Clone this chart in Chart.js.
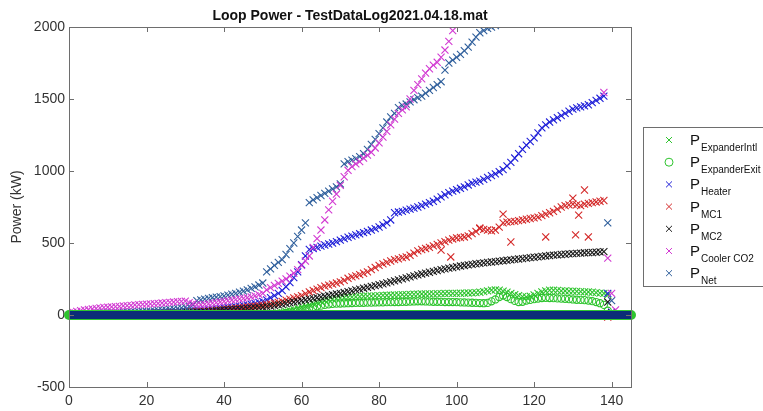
<!DOCTYPE html>
<html>
<head>
<meta charset="utf-8">
<script src="https://cdn.jsdelivr.net/npm/chart.js@4.4.1/dist/chart.umd.min.js"></script>
<style>
  html, body { margin: 0; padding: 0; background: #fff; }
  canvas { display: block; }
</style>
</head>
<body>
<canvas id="loopChart" width="763" height="411"></canvas>
<script>
// time axis (shared by all series)
const time = [
  0,1,2,3,4,5,6,7,8,9,
  10,11,12,13,14,15,16,17,18,19,
  20,21,22,23,24,25,26,27,28,29,
  30,31,32,33,34,35,36,37,38,39,
  40,41,42,43,44,45,46,47,48,49,
  50,51,52,53,54,55,56,57,58,59,
  60,61,62,63,64,65,66,67,68,69,
  70,71,72,73,74,75,76,77,78,79,
  80,81,82,83,84,85,86,87,88,89,
  90,91,92,93,94,95,96,97,98,99,
  100,101,102,103,104,105,106,107,108,109,
  110,111,112,113,114,115,116,117,118,119,
  120,121,122,123,124,125,126,127,128,129,
  130,131,132,133,134,135,136,137,138,139,
  140,141
];

const pExpanderIntl = [
  0,0,0,0,0,0,0,0,0,0,
  0,0,0,0,0,0,0,0,0,0,
  0,0,0,0,0,0,0,0,0,0,
  0,0,0,0,0,0,0,0,0,0,
  0,0,0,0,0,0,0,0,0,0,
  5,6,8,10,14,18,24,30,38,46,
  55,62,70,78,86,94,100,105,110,114,
  118,120,122,124,126,128,130,131,132,133,
  135,136,137,138,139,140,141,142,143,144,
  145,146,146,147,147,148,148,149,150,150,
  150,151,152,153,154,155,158,162,168,173,
  175,172,165,158,150,142,135,128,125,130,
  140,150,160,167,172,172,170,168,167,166,
  165,164,162,161,160,158,155,152,150,140,
  null,null
];

const pExpanderExit = [
  0,0,0,0,0,0,0,0,0,0,
  0,0,0,0,0,0,0,0,0,0,
  0,0,0,0,0,0,0,0,0,0,
  0,0,0,0,0,0,0,0,0,0,
  0,0,0,0,0,0,0,0,0,0,
  3,4,5,6,8,10,14,18,24,30,
  36,42,48,54,60,65,70,74,77,79,
  80,81,82,83,84,85,85,86,86,87,
  88,88,89,89,90,90,91,92,93,94,
  95,95,94,93,92,92,91,90,90,90,
  89,88,87,86,85,84,83,82,84,95,
  108,125,135,125,110,98,90,92,100,105,
  110,114,118,119,118,117,115,114,112,110,
  108,106,105,103,100,96,90,82,70,30,
  null,null
];

const pHeater = [
  2,2,3,3,4,4,5,5,6,6,
  7,7,8,8,9,9,10,10,11,12,
  13,14,15,16,17,18,19,20,22,24,
  26,28,30,32,34,36,38,40,43,46,
  49,52,55,58,62,66,70,75,80,87,
  95,105,120,135,150,170,195,225,260,300,
  350,410,455,462,470,478,486,493,500,510,
  520,530,540,548,556,564,572,580,590,600,
  611,625,640,660,710,715,720,728,735,742,
  750,760,770,780,790,805,820,835,850,860,
  870,880,890,903,915,923,930,942,955,968,
  980,995,1010,1035,1060,1090,1120,1150,1180,1205,
  1230,1265,1300,1320,1340,1355,1370,1385,1400,1415,
  1430,1438,1445,1452,1460,1475,1490,1505,1520,150,
  20,null
];

const pMC1 = [
  1,1,2,2,3,3,4,4,5,5,
  6,6,7,7,8,8,9,9,10,10,
  11,12,13,14,15,16,17,18,19,20,
  21,22,23,24,25,27,29,31,33,35,
  38,41,44,47,50,53,56,59,62,65,
  69,73,77,82,88,95,103,110,118,126,
  135,148,160,170,180,190,200,207,214,222,
  230,240,255,265,272,280,290,300,315,330,
  345,355,365,375,385,390,398,403,415,430,
  445,455,462,470,480,490,500,510,520,528,
  535,538,542,550,565,580,600,595,590,585,
  590,610,640,645,648,650,655,660,665,670,
  675,680,690,700,710,720,735,750,760,765,
  770,765,760,770,775,780,785,790,795,-15,
  -5,null
];
// scattered MC1 samples away from the main trend
const mc1OutTime = [96, 98.5, 106, 112, 114, 123, 130, 130.7, 131.5, 133, 134];
const mc1OutP = [451, 403, 604, 700, 507, 542, 812, 556, 694, 868, 542];

const pMC2 = [
  1,1,1,2,2,2,3,3,3,4,
  4,4,5,5,5,6,6,6,7,7,
  8,9,10,11,12,13,14,15,16,17,
  18,19,20,21,22,23,25,27,29,31,
  33,35,37,39,41,43,45,47,49,51,
  54,58,62,66,70,74,80,85,90,95,
  100,105,110,115,120,125,130,136,141,146,
  150,156,162,168,174,180,186,192,198,204,
  210,216,223,230,237,244,251,258,265,272,
  279,285,291,297,303,309,315,320,325,330,
  335,340,344,348,352,356,359,362,365,368,
  371,374,377,380,383,386,389,392,395,398,
  401,404,407,410,413,416,418,420,422,424,
  426,428,430,432,433,434,436,438,440,90,
  15,null
];

const pCoolerCO2 = [
  15,20,25,30,35,38,42,46,50,52,
  54,56,58,60,63,65,67,70,72,74,
  75,77,79,81,83,85,88,90,93,95,
  96,85,78,72,70,74,78,82,86,90,
  95,99,103,107,111,115,120,126,133,141,
  150,174,190,205,220,235,250,270,290,315,
  345,375,410,470,530,590,660,730,790,840,
  900,960,1005,1030,1050,1065,1090,1110,1130,1160,
  1195,1235,1275,1320,1360,1400,1425,1445,1500,1560,
  1600,1640,1680,1710,1735,1755,1790,1840,1900,1975,
  2040,2100,null,null,null,null,null,null,null,null,
  null,null,null,null,null,null,null,null,null,null,
  null,null,null,null,null,null,null,null,null,null,
  null,null,null,null,null,null,null,null,1545,395,
  150,35
];

const pNet = [
  5,6,7,8,9,10,11,12,13,14,
  15,16,17,18,19,20,21,22,23,24,
  25,27,29,31,33,35,38,42,46,50,
  55,60,70,100,105,110,115,120,124,128,
  132,138,144,150,158,166,175,185,195,208,
  222,300,320,345,365,385,420,460,500,545,
  590,640,780,800,815,830,845,860,875,890,
  910,1050,1065,1075,1085,1100,1120,1150,1185,1220,
  1260,1300,1340,1375,1400,1440,1455,1465,1480,1495,
  1510,1520,1540,1560,1580,1600,1620,1700,1750,1770,
  1790,1810,1835,1860,1895,1930,1960,1975,1990,2000,
  2010,2030,2060,2090,null,null,null,null,null,null,
  null,null,null,null,null,null,null,null,null,null,
  null,null,null,null,null,null,null,null,null,640,
  100,5
];

// zero baseline trace
const baseTime = [0, 145];
const baseP = [0, 0];

const xTicks = [0, 20, 40, 60, 80, 100, 120, 140];
const yTicks = [-500, 0, 500, 1000, 1500, 2000];

const legendSubs = ['ExpanderIntl', 'ExpanderExit', 'Heater', 'MC1', 'MC2', 'Cooler CO2', 'Net'];
const legendColors = ['#2ec42e', '#2ec42e', '#1f1fd8', '#d42a2a', '#1a1a1a', '#d23ad2', '#2f5f9c'];
const legendStyles = ['crossRot', 'circle', 'crossRot', 'crossRot', 'crossRot', 'crossRot', 'crossRot'];

function pts(xs, ys) {
  return xs.map((x, i) => ({ x: x, y: ys[i] })).filter(p => p.y !== null);
}

function markerSet(label, xs, ys, color, style, order) {
  return {
    label: label,
    data: pts(xs, ys),
    pointStyle: style,
    pointRadius: style === 'circle' ? 3.6 : 5,
    pointBorderWidth: 1.1,
    borderColor: color,
    backgroundColor: 'rgba(0,0,0,0)',
    order: order
  };
}

const FONT = "'Liberation Sans', Arial, sans-serif";

// box, inward ticks, title and legend with subscripts
const matlabLook = {
  id: 'matlabLook',
  afterDraw(chart) {
    const { ctx, chartArea: a, scales: { x, y } } = chart;
    ctx.save();
    ctx.strokeStyle = '#6e6e6e';
    ctx.lineWidth = 1;
    ctx.strokeRect(a.left + 0.5, a.top + 0.5, a.right - a.left, a.bottom - a.top);
    ctx.beginPath();
    xTicks.forEach(v => {
      const px = Math.round(x.getPixelForValue(v)) + 0.5;
      ctx.moveTo(px, a.bottom); ctx.lineTo(px, a.bottom - 5);
      ctx.moveTo(px, a.top); ctx.lineTo(px, a.top + 5);
    });
    yTicks.forEach(v => {
      const py = Math.round(y.getPixelForValue(v)) + 0.5;
      ctx.moveTo(a.left, py); ctx.lineTo(a.left + 5, py);
      ctx.moveTo(a.right, py); ctx.lineTo(a.right - 5, py);
    });
    ctx.stroke();

    // title
    ctx.fillStyle = '#111';
    ctx.font = 'bold 14px ' + FONT;
    ctx.textAlign = 'center';
    ctx.textBaseline = 'alphabetic';
    ctx.fillText('Loop Power - TestDataLog2021.04.18.mat', (a.left + a.right) / 2, 20);

    // legend
    ctx.strokeStyle = '#6e6e6e';
    ctx.strokeRect(643.5, 127.5, 130, 159);
    legendSubs.forEach((sub, i) => {
      const my = 140 + i * 22.2;
      ctx.strokeStyle = legendColors[i];
      ctx.fillStyle = 'rgba(0,0,0,0)';
      ctx.lineWidth = 1;
      Chart.helpers.drawPoint(ctx, {
        pointStyle: legendStyles[i],
        radius: legendStyles[i] === 'circle' ? 4 : 4.2,
        borderWidth: 1,
        rotation: 0
      }, 669, my);
      ctx.fillStyle = '#111';
      ctx.textAlign = 'left';
      ctx.font = '15px ' + FONT;
      ctx.fillText('P', 690, my + 5);
      ctx.font = '10px ' + FONT;
      ctx.fillText(sub, 701, my + 11);
    });
    ctx.restore();
  }
};

new Chart(document.getElementById('loopChart'), {
  type: 'scatter',
  data: {
    datasets: [
      {
        label: 'base',
        data: pts(baseTime, baseP),
        showLine: true,
        borderColor: '#0b2c78',
        borderWidth: 8,
        borderCapStyle: 'butt',
        pointRadius: 0,
        clip: false,
        order: 0
      },
      {
        label: 'baseRing',
        data: pts(baseTime, baseP),
        showLine: true,
        borderColor: '#2ec42e',
        borderWidth: 10,
        borderCapStyle: 'round',
        pointRadius: 0,
        clip: false,
        order: 1
      },
      markerSet('P ExpanderIntl', time, pExpanderIntl, legendColors[0], 'crossRot', 9),
      markerSet('P ExpanderExit', time, pExpanderExit, legendColors[1], 'circle', 8),
      markerSet('P Heater', time, pHeater, legendColors[2], 'crossRot', 7),
      markerSet('P MC1', time, pMC1, legendColors[3], 'crossRot', 6),
      markerSet('P MC1 scatter', mc1OutTime, mc1OutP, legendColors[3], 'crossRot', 6),
      markerSet('P MC2', time, pMC2, legendColors[4], 'crossRot', 5),
      markerSet('P Net', time, pNet, legendColors[6], 'crossRot', 4),
      markerSet('P Cooler CO2', time, pCoolerCO2, legendColors[5], 'crossRot', 3)
    ]
  },
  options: {
    responsive: false,
    animation: false,
    events: [],
    layout: { padding: { top: 27, right: 132, left: 0, bottom: 0 } },
    plugins: {
      legend: { display: false },
      tooltip: { enabled: false },
      title: { display: false }
    },
    scales: {
      x: {
        type: 'linear',
        min: 0,
        max: 145,
        grid: { display: false, drawTicks: false },
        border: { display: false },
        ticks: {
          stepSize: 20,
          includeBounds: false,
          padding: 6,
          maxRotation: 0,
          color: '#333',
          font: { family: FONT, size: 14 },
          callback: v => String(v)
        },
        afterFit: s => { s.height = 24; }
      },
      y: {
        min: -500,
        max: 2000,
        grid: { display: false, drawTicks: false },
        border: { display: false },
        ticks: {
          stepSize: 500,
          includeBounds: false,
          padding: 4,
          color: '#333',
          font: { family: FONT, size: 14 },
          callback: v => String(v)
        },
        title: {
          display: true,
          text: 'Power (kW)',
          color: '#333',
          padding: { top: 9, bottom: 0 },
          font: { family: FONT, size: 14 }
        },
        afterFit: s => { s.width = 69; }
      }
    }
  },
  plugins: [matlabLook]
});
</script>
</body>
</html>
